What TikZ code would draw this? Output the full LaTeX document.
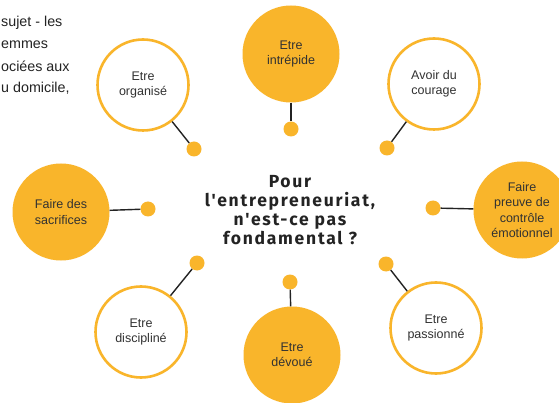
\documentclass[tikz,border=0pt]{standalone}
\usepackage{fontspec}
\setmainfont{Liberation Sans}
\newfontfamily\titlefont[LetterSpace=10]{Fira Sans}
\definecolor{gold}{RGB}{249,181,43}
\definecolor{ink}{RGB}{35,35,35}
\definecolor{txt}{RGB}{50,50,50}
\tikzset{
  fillc/.style={circle, fill=gold, minimum size=97pt, inner sep=0pt, align=center,
    text=txt, font=\fontsize{12.5}{15.5}\selectfont},
  ringc/.style={circle, draw=gold, line width=2.6pt, fill=white, minimum size=91pt, inner sep=0pt,
    align=center, text=txt, font=\fontsize{12.5}{15.5}\selectfont},
  smalldot/.style={circle, fill=gold, minimum size=15pt, inner sep=0pt},
  link/.style={draw=ink, line width=1.4pt},
  sidetext/.style={anchor=base west, inner sep=0pt, text=ink, font=\fontsize{14.3}{17}\selectfont}
}
\begin{document}
\begin{tikzpicture}[x=1pt,y=-1pt]
\useasboundingbox (0,0) rectangle (559,403);
\clip (0,0) rectangle (559,403);
\fill[white] (0,0) rectangle (559,403);

% partial text
\node[sidetext] (t1) at (1,27) {sujet - les};
\node[sidetext] (t2) at (1,49) {emmes};
\node[sidetext] (t3) at (1,72) {ociées aux};
\node[sidetext] (t4) at (1,93) {u domicile,};

% title
\node[align=center, inner sep=0pt, text=ink, font=\titlefont\bfseries\fontsize{17.5}{19}\selectfont] (title) at (290,210)
  {Pour\\l'entrepreneuriat,\\n'est-ce pas\\fondamental ?};

% circles
\node[fillc] (intrepide) at (291,54) {Etre\\intrépide};
\node[ringc] (organise) at (143,85) {Etre\\organisé};
\node[ringc] (courage) at (434,84) {Avoir du\\courage};
\node[fillc] (sacrifices) at (61,212) {Faire des\\sacrifices};
\node[fillc] (emotion) at (522,210) {Faire\\preuve de\\contrôle\\émotionnel};
\node[ringc] (discipline) at (141,332) {Etre\\discipliné};
\node[ringc] (passionne) at (436,328) {Etre\\passionné};
\node[fillc] (devoue) at (292,355) {Etre\\dévoué};

% dots
\node[smalldot] (d1) at (194,149) {};
\node[smalldot] (d2) at (291,129) {};
\node[smalldot] (d3) at (387,148) {};
\node[smalldot] (d4) at (148,209) {};
\node[smalldot] (d5) at (433,208) {};
\node[smalldot] (d6) at (197,263) {};
\node[smalldot] (d7) at (290,282) {};
\node[smalldot] (d8) at (386,264) {};

% connectors
\draw[link] (organise) -- (d1);
\draw[link] (intrepide) -- (d2);
\draw[link] (courage) -- (d3);
\draw[link] (sacrifices) -- (d4);
\draw[link] (emotion) -- (d5);
\draw[link] (discipline) -- (d6);
\draw[link] (devoue) -- (d7);
\draw[link] (passionne) -- (d8);
\end{tikzpicture}
\end{document}
